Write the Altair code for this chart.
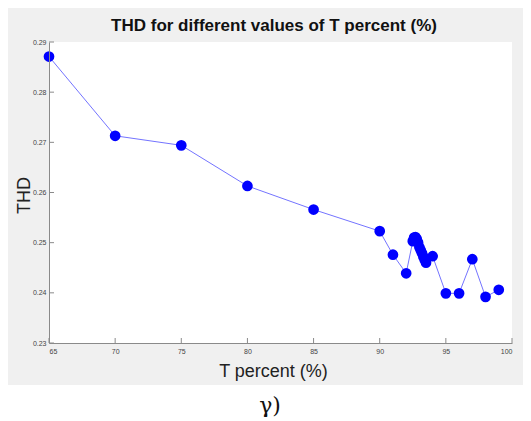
import altair as alt
import pandas as pd

# Data
t_percent = [65, 70, 75, 80, 85, 90, 91, 92, 92.5, 92.6, 92.7, 92.8, 92.9,
             93.0, 93.1, 93.2, 93.3, 93.4, 93.5, 94, 95, 96, 97, 98, 99]
thd = [0.2871, 0.2713, 0.2694, 0.2613, 0.2566, 0.2523, 0.2476, 0.2439,
       0.2503, 0.2510, 0.2511, 0.2507, 0.2500, 0.2491, 0.2485, 0.2479,
       0.2472, 0.2466, 0.2460, 0.2473, 0.2399, 0.2399, 0.2467, 0.2392, 0.2406]
x_ticks = [65, 70, 75, 80, 85, 90, 95, 100]
y_ticks = [0.23, 0.24, 0.25, 0.26, 0.27, 0.28, 0.29]
title_text = "THD for different values of T percent (%)"
caption_text = "γ)"

W, H = 463, 301
FONT = "Liberation Sans"
AXC = "#8a8a8a"

df = pd.DataFrame({"t": t_percent, "thd": thd})
xt = pd.DataFrame({"v": x_ticks})
yt = pd.DataFrame({"v": y_ticks})
one = alt.Data(values=[{"a": 1}])

xscale = alt.Scale(domain=[65, 100], nice=False, zero=False)
yscale = alt.Scale(domain=[0.23, 0.29], nice=False, zero=False)

xaxis = alt.Axis(values=x_ticks, tickSize=0, grid=False, domainColor=AXC,
                 labelFontSize=7, labelColor="#444", labelFont=FONT, labelPadding=4,
                 title="T percent (%)", titleFontSize=18, titleFontWeight="normal",
                 titleFont=FONT, titleColor="#222", titlePadding=8, titleX=224,
                 zindex=1)
yaxis = alt.Axis(values=y_ticks, format=".2f", tickSize=0, grid=False, domainColor=AXC,
                 labelFontSize=7, labelColor="#444", labelFont=FONT, labelPadding=3,
                 title="THD", titleFontSize=18, titleFontWeight="normal",
                 titleFont=FONT, titleColor="#222", titleX=-16, titleY=153,
                 zindex=1)

bg = alt.Chart(one).mark_rect(color="#f0f0f0").encode(
    x=alt.value(-41), x2=alt.value(W + 11), y=alt.value(-34), y2=alt.value(H + 42))
plotbg = alt.Chart(one).mark_rect(color="white").encode(
    x=alt.value(0), x2=alt.value(W), y=alt.value(0), y2=alt.value(H))

line = alt.Chart(df).mark_line(color="#0000ff", opacity=0.55, strokeWidth=1).encode(
    x=alt.X("t:Q", scale=xscale, axis=xaxis),
    y=alt.Y("thd:Q", scale=yscale, axis=yaxis))
pts = alt.Chart(df).mark_point(filled=True, shape="circle", color="#0000ff",
                               opacity=1, size=115).encode(
    x=alt.X("t:Q", scale=xscale),
    y=alt.Y("thd:Q", scale=yscale))

xtick_marks = alt.Chart(xt).mark_rule(color=AXC, strokeWidth=1).encode(
    x=alt.X("v:Q", scale=xscale), y=alt.value(H), y2=alt.value(H - 5))
ytick_marks = alt.Chart(yt).mark_rule(color=AXC, strokeWidth=1).encode(
    y=alt.Y("v:Q", scale=yscale), x=alt.value(0), x2=alt.value(5))

title = alt.Chart(one).mark_text(text=title_text, font=FONT, fontSize=17,
                                 fontWeight="bold", color="#111",
                                 baseline="alphabetic").encode(
    x=alt.value(225), y=alt.value(-11))

caption = alt.Chart(one).mark_text(text=caption_text, font="DejaVu Serif",
                                   fontSize=22, color="#111",
                                   baseline="middle").encode(
    x=alt.value(221), y=alt.value(364))

chart = alt.layer(bg, plotbg, xtick_marks, ytick_marks, line, pts, title,
                  caption).properties(
    width=W, height=H, padding=0, background="white",
).configure_view(strokeWidth=0)

chart.save("out.html", embed_options={"renderer": "svg", "actions": False})
